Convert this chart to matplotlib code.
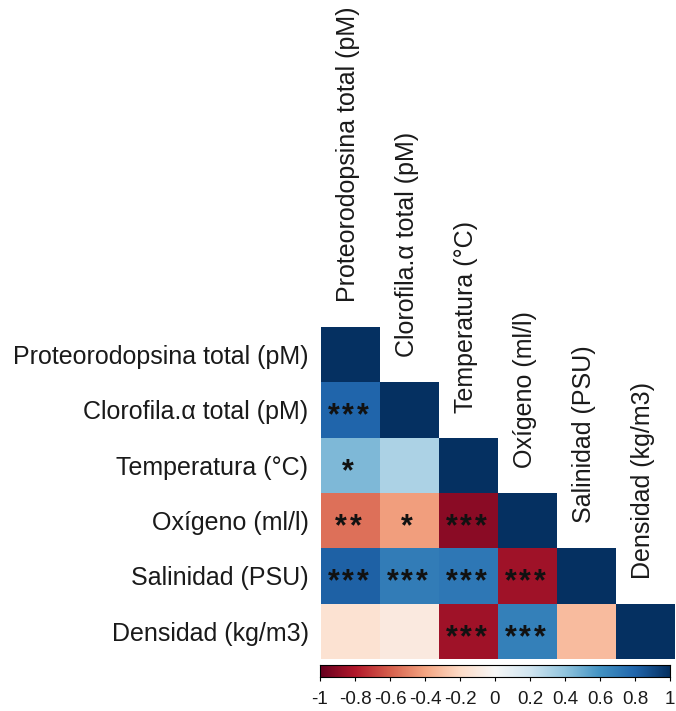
import numpy as np
import matplotlib
matplotlib.use("Agg")
import matplotlib.pyplot as plt
from matplotlib.colors import Normalize

plt.rcParams['font.family'] = ['Liberation Sans', 'DejaVu Sans']

variables = [
    "Proteorodopsina total (pM)",
    "Clorofila.\u03b1 total (pM)",
    "Temperatura (\u00b0C)",
    "Ox\u00edgeno (ml/l)",
    "Salinidad (PSU)",
    "Densidad (kg/m3)",
]

# lower triangle of the correlation matrix, row by row
corr_rows = [
    [1.0],
    [0.80, 1.0],
    [0.45, 0.32, 1.0],
    [-0.55, -0.42, -0.90, 1.0],
    [0.82, 0.70, 0.72, -0.85, 1.0],
    [-0.15, -0.10, -0.85, 0.68, -0.32, 1.0],
]

sig_rows = [
    [""],
    ["***", ""],
    ["*", "", ""],
    ["**", "*", "***", ""],
    ["***", "***", "***", "***", ""],
    ["", "", "***", "***", "", ""],
]

cbar_ticks = [-1, -0.8, -0.6, -0.4, -0.2, 0, 0.2, 0.4, 0.6, 0.8, 1]

n = len(variables)
mat = np.full((n, n), np.nan)
for i, row in enumerate(corr_rows):
    mat[i, :len(row)] = row
mat = np.ma.masked_invalid(mat)

W, H = 676, 711
fig = plt.figure(figsize=(W / 100, H / 100), dpi=100)

def px_axes(x0, y0, x1, y1):
    return fig.add_axes([x0 / W, 1 - y1 / H, (x1 - x0) / W, (y1 - y0) / H])

ax = px_axes(321, 327, 675, 659)
cmap = plt.get_cmap("RdBu")
norm = Normalize(-1, 1)
ax.pcolormesh(np.arange(n + 1), np.arange(n + 1), mat, cmap=cmap, norm=norm)
ax.set_xlim(0, n)
ax.set_ylim(n, 0)
for s in ax.spines.values():
    s.set_visible(False)
ax.set_xticks([])
ax.set_yticks(np.arange(n) + 0.5)
ax.set_yticklabels(variables, fontsize=18, color="#1a1a1a")
ax.tick_params(axis="y", length=0, pad=9)

# significance stars, one text per star so they sit evenly spaced
star_step = 0.25
for i, row in enumerate(sig_rows):
    for j, s in enumerate(row):
        k = len(s)
        for m in range(k):
            x = j + 0.46 + (m - (k - 1) / 2) * star_step
            ax.text(x, i + 0.62, "*", ha="center", va="center",
                    fontsize=22, fontweight="bold", color="#111111")

# column labels above the diagonal
for j, name in enumerate(variables):
    ax.text(j + 0.45, j - 0.45, name, rotation=90, ha="center", va="bottom",
            fontsize=18, color="#1a1a1a", clip_on=False)

# colour legend
cax = px_axes(320, 665, 670, 677)
grad = np.linspace(-1, 1, 256).reshape(1, -1)
cax.imshow(grad, aspect="auto", cmap=cmap, norm=norm, extent=(-1, 1, 0, 1))
cax.set_yticks([])
cax.set_xticks(cbar_ticks)
cax.set_xticklabels([f"{t:g}" for t in cbar_ticks], fontsize=13.5, color="#1a1a1a")
cax.tick_params(axis="x", length=3, pad=7)
for s in cax.spines.values():
    s.set_linewidth(0.8)

fig.savefig("out.png", dpi=100, facecolor="white")
